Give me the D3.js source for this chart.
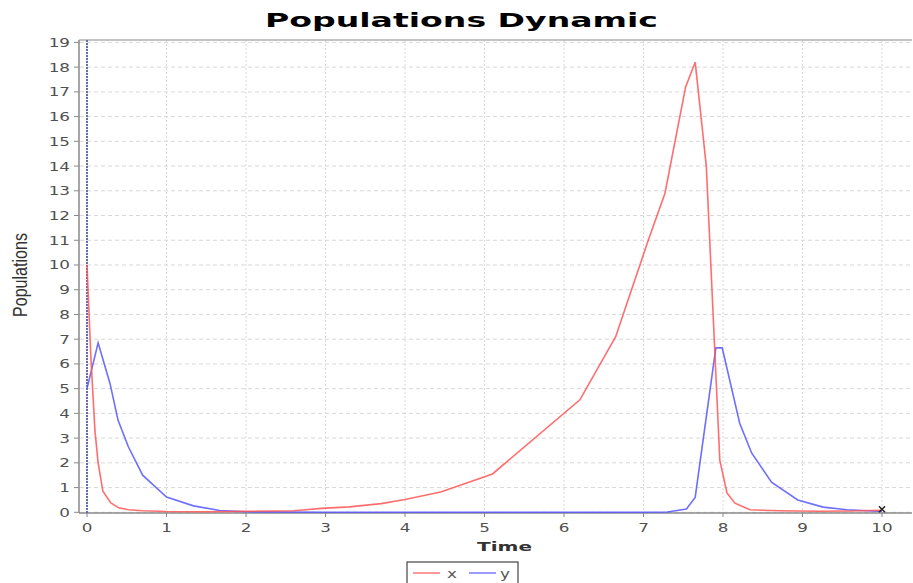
<!DOCTYPE html>
<html><head><meta charset="utf-8">
<script src="https://cdn.jsdelivr.net/npm/d3@7"></script>
<style>html,body{margin:0;padding:0;background:#fff;overflow:hidden}</style>
</head><body>
<svg id="chart" width="913" height="583"></svg>
<script>
const titleText = "Populations Dynamic";
const xLabel = "Time";
const yLabel = "Populations";
const seriesNames = ["x", "y"];
const seriesColors = ["#ff5555", "#5555ff"];

const timeX = [0,0.05,0.1,0.14,0.2,0.3,0.4,0.52,0.7,1.0,1.5,2.0,2.6,2.95,3.3,3.7,4.0,4.45,5.1,6.2,6.65,7.06,7.27,7.53,7.65,7.79,7.96,8.05,8.15,8.34,8.7,9.2,9.6,10];
const valuesX = [10,6.2,3.3,2.0,0.85,0.38,0.18,0.1,0.06,0.03,0.02,0.04,0.06,0.16,0.22,0.35,0.52,0.82,1.55,4.55,7.1,11.0,12.9,17.2,18.2,14.0,2.1,0.78,0.37,0.1,0.06,0.04,0.05,0.08];

const timeY = [0,0.14,0.29,0.39,0.52,0.7,1.0,1.34,1.67,2.0,3,4,5,6,7,7.3,7.54,7.65,7.91,7.99,8.21,8.36,8.61,8.94,9.26,9.56,10];
const valuesY = [5.0,6.85,5.2,3.73,2.65,1.5,0.62,0.26,0.07,0.02,0,0,0,0,0,0.01,0.13,0.6,6.65,6.65,3.6,2.4,1.22,0.5,0.21,0.1,0.03];

const xTicks = [0,1,2,3,4,5,6,7,8,9,10];
const yTicks = d3.range(0, 20);

const svg = d3.select("#chart");
const plot = {left: 79, right: 912, top: 40, bottom: 513};
const x = d3.scaleLinear().domain([0, 10]).range([87, 882]);
const y = d3.scaleLinear().domain([0, 19]).range([512.3, 42.4]);
const sx = 1.4;

svg.append("rect").attr("x", plot.left).attr("y", plot.top)
  .attr("width", plot.right - plot.left).attr("height", plot.bottom - plot.top).attr("fill", "#fff");

svg.append("g").selectAll("line").data(yTicks).join("line")
  .attr("x1", plot.left + 1).attr("x2", plot.right)
  .attr("y1", d => y(d)).attr("y2", d => y(d))
  .attr("stroke", "#d8d8d8").attr("stroke-width", 1).attr("stroke-dasharray", "4,3");
svg.append("g").selectAll("line").data(xTicks).join("line")
  .attr("x1", d => x(d)).attr("x2", d => x(d))
  .attr("y1", plot.top).attr("y2", plot.bottom)
  .attr("stroke", "#d8d8d8").attr("stroke-width", 1).attr("stroke-dasharray", "2,2");

svg.append("line").attr("x1", plot.left).attr("x2", plot.right).attr("y1", plot.top).attr("y2", plot.top)
  .attr("stroke", "#b0b0b0").attr("stroke-width", 1.5);

svg.append("line").attr("x1", plot.left).attr("x2", plot.left).attr("y1", plot.top).attr("y2", plot.bottom)
  .attr("stroke", "#888").attr("stroke-width", 1.5);
svg.append("line").attr("x1", plot.left).attr("x2", plot.right).attr("y1", plot.bottom).attr("y2", plot.bottom)
  .attr("stroke", "#888").attr("stroke-width", 1.5);

svg.append("g").selectAll("line").data(yTicks).join("line")
  .attr("x1", plot.left - 5).attr("x2", plot.left)
  .attr("y1", d => y(d)).attr("y2", d => y(d)).attr("stroke", "#888");
svg.append("g").selectAll("line").data(xTicks).join("line")
  .attr("x1", d => x(d)).attr("x2", d => x(d))
  .attr("y1", plot.bottom).attr("y2", plot.bottom + 4).attr("stroke", "#888");

svg.append("g").selectAll("text").data(yTicks).join("text")
  .attr("transform", d => `translate(${plot.left - 9},${y(d) + 4.5}) scale(${sx},1)`)
  .attr("text-anchor", "end").attr("font-family", "DejaVu Sans").attr("font-size", 12)
  .attr("fill", "#505050").text(d => d);
svg.append("g").selectAll("text").data(xTicks).join("text")
  .attr("transform", d => `translate(${x(d)},${532}) scale(${sx},1)`)
  .attr("text-anchor", "middle").attr("font-family", "DejaVu Sans").attr("font-size", 12)
  .attr("fill", "#505050").text(d => d);

svg.append("line").attr("x1", x(0)).attr("x2", x(0)).attr("y1", plot.top).attr("y2", plot.bottom)
  .attr("stroke", "#6a6aae").attr("stroke-width", 2).attr("stroke-dasharray", "2,1");

const line = d3.line().x(d => x(d[0])).y(d => y(d[1]));
const dataX = timeX.map((t, i) => [t, valuesX[i]]);
const dataY = timeY.map((t, i) => [t, valuesY[i]]);
svg.append("path").datum(dataY).attr("d", line).attr("fill", "none")
  .attr("stroke", seriesColors[1]).attr("stroke-width", 1.6).attr("stroke-opacity", 0.85);
svg.append("path").datum(dataX).attr("d", line).attr("fill", "none")
  .attr("stroke", seriesColors[0]).attr("stroke-width", 1.6).attr("stroke-opacity", 0.85);

const ex = x(timeX[timeX.length - 1]), ey = y(valuesX[valuesX.length - 1]) - 1;
svg.append("path").attr("d", `M${ex-3},${ey-3}L${ex+3},${ey+3}M${ex-3},${ey+3}L${ex+3},${ey-3}`)
  .attr("stroke", "#222").attr("stroke-width", 1.5);

svg.append("text").attr("x", 265).attr("y", 27)
  .attr("font-family", "DejaVu Sans").attr("font-weight", "bold").attr("font-size", 20)
  .attr("textLength", 393).attr("lengthAdjust", "spacingAndGlyphs").attr("fill", "#000").text(titleText);

svg.append("text").attr("x", 477).attr("y", 551)
  .attr("font-family", "DejaVu Sans").attr("font-weight", "bold").attr("font-size", 13)
  .attr("textLength", 55).attr("lengthAdjust", "spacingAndGlyphs").attr("fill", "#333").text(xLabel);
svg.append("text").attr("transform", "translate(27,275) rotate(-90)").attr("text-anchor", "middle")
  .attr("font-family", "Liberation Sans Narrow, Liberation Sans").attr("font-size", 20)
  .attr("textLength", 84).attr("lengthAdjust", "spacingAndGlyphs").attr("fill", "#333").text(yLabel);

const lg = svg.append("g");
lg.append("rect").attr("x", 407).attr("y", 562).attr("width", 111).attr("height", 30)
  .attr("fill", "#fff").attr("stroke", "#444").attr("stroke-width", 1.2);
const legendItems = [{x0: 413, tx: 447}, {x0: 469, tx: 500}];
legendItems.forEach((it, i) => {
  lg.append("line").attr("x1", it.x0).attr("x2", it.x0 + 27).attr("y1", 573).attr("y2", 573)
    .attr("stroke", seriesColors[i]).attr("stroke-width", 1.4).attr("stroke-opacity", 0.85);
  lg.append("text").attr("transform", `translate(${it.tx},578) scale(${sx},1)`)
    .attr("font-family", "DejaVu Sans").attr("font-size", 12).attr("fill", "#555").text(seriesNames[i]);
});
</script>
</body></html>
